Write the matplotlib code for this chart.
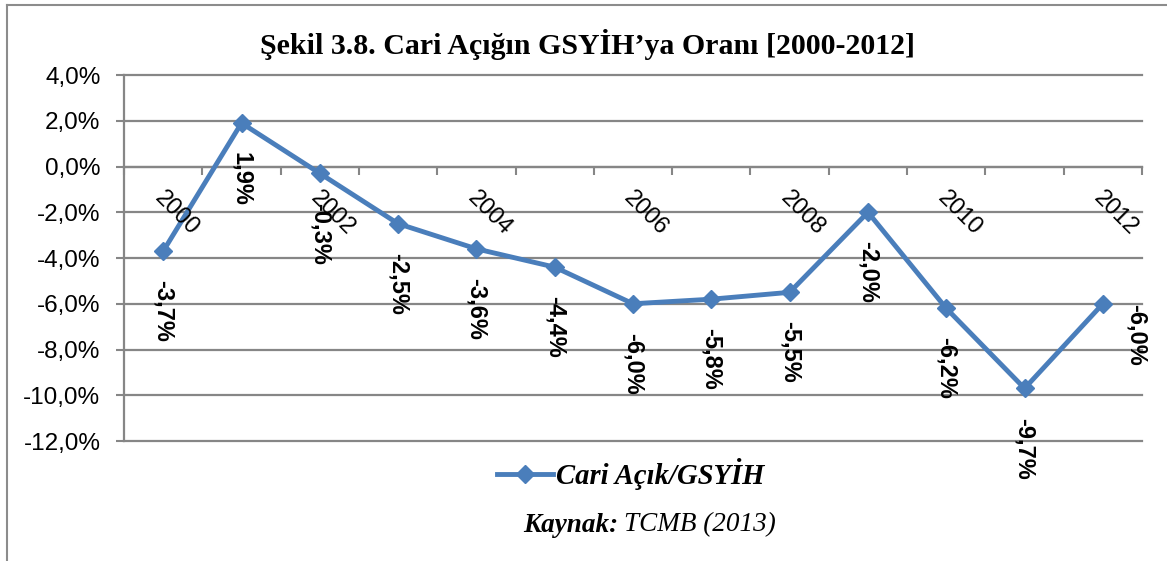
import matplotlib
matplotlib.use("Agg")
import matplotlib.pyplot as plt
from matplotlib.lines import Line2D

# ============================================
# Veri (TCMB 2013)
# ============================================
years = list(range(2000, 2013))
ratio = [-3.7, 1.9, -0.3, -2.5, -3.6, -4.4, -6.0, -5.8, -5.5, -2.0, -6.2, -9.7, -6.0]
value_labels = ["-3,7%", "1,9%", "-0,3%", "-2,5%", "-3,6%", "-4,4%", "-6,0%",
                "-5,8%", "-5,5%", "-2,0%", "-6,2%", "-9,7%", "-6,0%"]
y_ticks = [4, 2, 0, -2, -4, -6, -8, -10, -12]
y_tick_labels = ["4,0%", "2,0%", "0,0%", "-2,0%", "-4,0%", "-6,0%", "-8,0%", "-10,0%", "-12,0%"]
shown_years = [2000, 2002, 2004, 2006, 2008, 2010, 2012]

LINE_COLOR = "#4A7EBB"
GRID_COLOR = "#868686"
SERIF = "Liberation Serif"
SANS = "Liberation Sans"

fig = plt.figure(figsize=(11.67, 5.61), dpi=100)
ax = fig.add_axes([0.1063, 0.2139, 0.8723, 0.6524])

x = list(range(len(years)))
ax.plot(x, ratio, color=LINE_COLOR, lw=3.5, marker="D", markersize=9,
        markerfacecolor=LINE_COLOR, markeredgecolor=LINE_COLOR, zorder=3, clip_on=False)

ax.set_xlim(-0.5, len(years) - 0.5)
ax.set_ylim(-12, 4)

# y ekseni + yatay grid
ax.set_yticks(y_ticks)
ax.set_yticklabels(y_tick_labels, fontfamily=SANS, fontsize=17.5)
ax.tick_params(axis="y", length=6, width=1.5, color=GRID_COLOR, pad=11)
ax.grid(axis="y", color=GRID_COLOR, lw=1.6)
for gl in ax.get_ygridlines():
    gl.set_clip_on(False)

# x ekseni 0 çizgisinde, kategori sınırlarında tick
ax.spines["bottom"].set_position(("data", 0))
ax.spines["bottom"].set_color(GRID_COLOR)
ax.spines["bottom"].set_linewidth(1.6)
ax.spines["left"].set_color(GRID_COLOR)
ax.spines["left"].set_linewidth(1.6)
ax.spines["top"].set_visible(False)
ax.spines["right"].set_visible(False)
ax.set_xticks([])
ax.set_xticks([i - 0.5 for i in range(len(years) + 1)], minor=True)
ax.tick_params(axis="x", which="minor", length=6, width=1.5, color=GRID_COLOR)

# yıl etiketleri (eğik)
for yr in shown_years:
    i = years.index(yr)
    ax.annotate(str(yr), xy=(i, 0), xytext=(-4, -20), textcoords="offset points",
                rotation=-45, rotation_mode="anchor", ha="left", va="center",
                fontfamily=SANS, fontsize=17)

# veri etiketleri (dikey)
for i, (v, lab) in enumerate(zip(ratio, value_labels)):
    offset = (0, -21) if i < len(ratio) - 1 else (24, 0)
    ax.annotate(lab, xy=(i, v), xytext=offset, textcoords="offset points",
                rotation=-90, ha="center", va="top",
                fontfamily=SANS, fontsize=17, fontweight="bold")

# başlık
fig.text(0.5034, 0.92, "Şekil 3.8. Cari Açığın GSYİH’ya Oranı [2000-2012]",
         ha="center", va="center", fontfamily=SERIF, fontsize=21.5, fontweight="bold")

# lejant
leg_y = 1 - 474 / 561
fig.add_artist(Line2D([497 / 1167, 553 / 1167], [leg_y, leg_y], color=LINE_COLOR, lw=3.5,
                      transform=fig.transFigure))
fig.add_artist(Line2D([525 / 1167], [leg_y], color=LINE_COLOR, marker="D", markersize=9,
                      transform=fig.transFigure))
fig.text(556 / 1167, leg_y, "Cari Açık/GSYİH", ha="left", va="center",
         fontfamily=SERIF, fontsize=20.6, fontweight="bold", fontstyle="italic")

# kaynak
src_y = 1 - 525 / 561
fig.text(618 / 1167, src_y, "Kaynak:", ha="right", va="center",
         fontfamily=SERIF, fontsize=19.5, fontweight="bold", fontstyle="italic")
fig.text(624 / 1167, src_y, "TCMB (2013)", ha="left", va="center",
         fontfamily=SERIF, fontsize=19.5, fontstyle="italic")

# dış çerçeve (sol ve üst kenar)
fig.add_artist(Line2D([7 / 1167, 7 / 1167], [0, 1 - 5 / 561], color="#8c8c8c", lw=1.5,
                      transform=fig.transFigure))
fig.add_artist(Line2D([7 / 1167, 1], [1 - 5 / 561, 1 - 5 / 561], color="#8c8c8c", lw=1.5,
                      transform=fig.transFigure))

fig.savefig("out.png", dpi=100)
